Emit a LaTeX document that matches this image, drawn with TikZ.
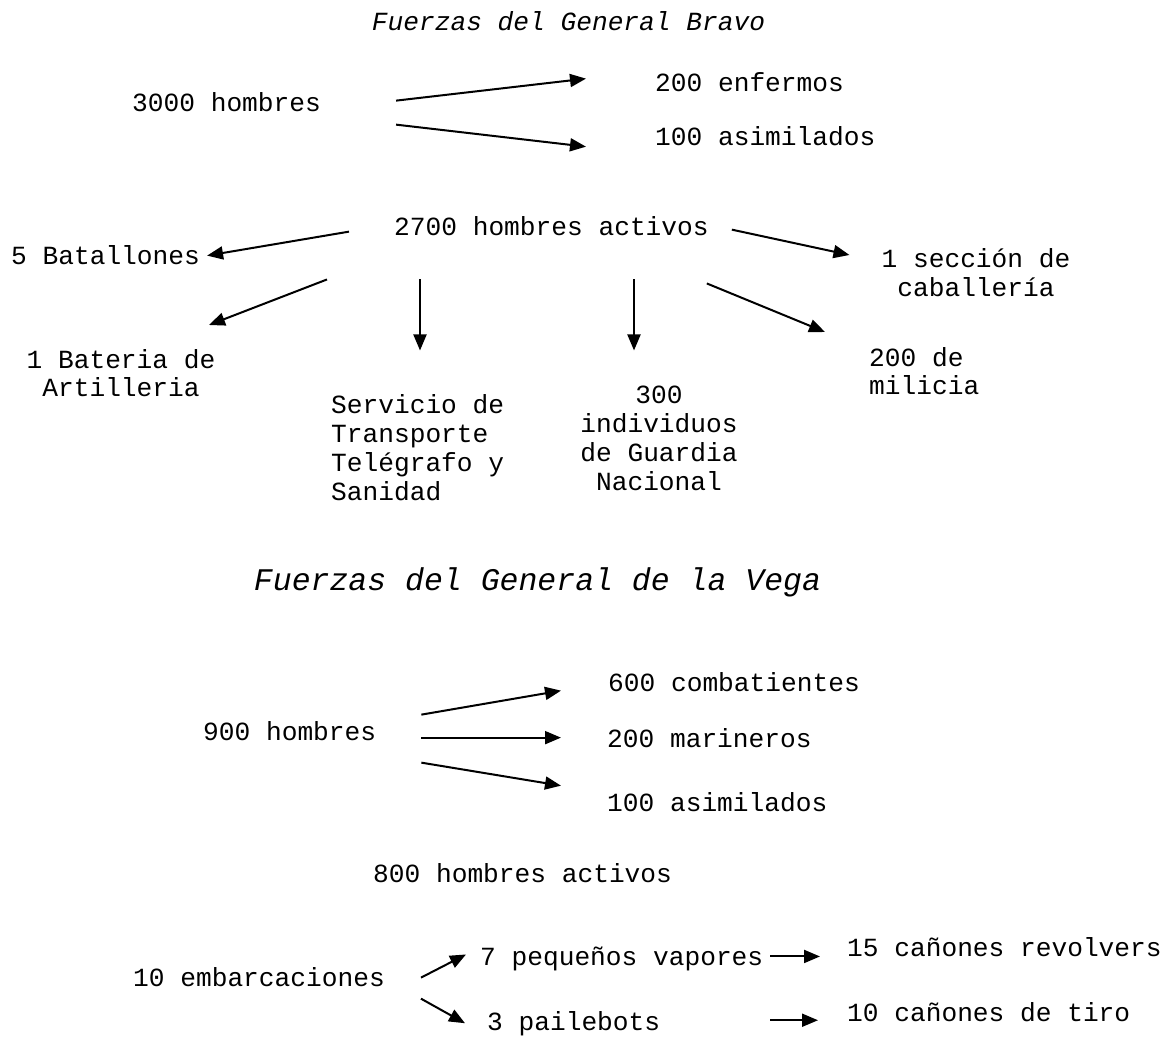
\documentclass[tikz,border=0pt]{standalone}
\usepackage{fontspec}
\setmainfont{Liberation Mono}
\usetikzlibrary{arrows.meta,calc}
\tikzset{
  txt/.style={inner sep=0pt, font=\fontsize{26.2}{29}\selectfont},
  txttight/.style={inner sep=0pt, font=\fontsize{26.2}{27}\selectfont},
  ttl/.style={inner sep=0pt, font=\fontsize{26.2}{29}\selectfont\itshape},
  bigttl/.style={inner sep=0pt, font=\fontsize{31.5}{36}\selectfont\itshape},
  arr/.style={line width=2pt, -{Triangle[length=16pt,width=13pt]}}
}
\begin{document}
\begin{tikzpicture}[x=1pt, y=-1pt]
\useasboundingbox (0,0) rectangle (1175,1036);
\node[ttl, anchor=base] (bravo) at (568.5,30) {Fuerzas del General Bravo};
\node[txt, anchor=base west] (h3000) at (132,111) {3000 hombres};
\node[txt, anchor=base west] (enf) at (655,91) {200 enfermos};
\node[txt, anchor=base west] (asi1) at (655,145) {100 asimilados};
\node[txt, anchor=base west] (act) at (394,235) {2700 hombres activos};
\node[txt, anchor=base west] (bat) at (11,264) {5 Batallones};
\node[txttight, anchor=north, align=center] (art) at (121,349) {\strut 1 Bateria de\\Artilleria};
\node[txt, anchor=north west, align=left] (serv) at (331,393) {\strut Servicio de\\Transporte\\Telégrafo y\\Sanidad};
\node[txt, anchor=north, align=center] (guard) at (659,383) {\strut 300\\individuos\\de Guardia\\Nacional};
\node[txttight, anchor=north west, align=left] (mil) at (869,347) {\strut 200 de\\milicia};
\node[txt, anchor=north, align=center] (cab) at (976,247) {\strut 1 sección de\\caballería};
\draw[arr] ($(h3000.east)+(75,-1)$) -- ($(enf.west)+(-69,-3)$);
\draw[arr] ($(h3000.east)+(75,23)$) -- ($(asi1.west)+(-69,11)$);
\draw[arr] ($(act.west)+(-45,6)$) -- ($(bat.east)+(7,1)$);
\draw[arr] ($(act.south west)+(-67,44)$) -- ($(art.north)+(88,-24)$);
\draw[arr] ($(act.south west)+(26,44)$) -- ($(act.south west)+(26,115)$);
\draw[arr] ($(act.south west)+(240,44)$) -- ($(act.south west)+(240,115)$);
\draw[arr] ($(act.south east)+(-2,48)$) -- ($(mil.north west)+(-44,-15)$);
\draw[arr] ($(act.east)+(23,4)$) -- ($(cab.north west)+(-32,8)$);
\node[bigttl, anchor=base] (vega) at (537.5,590) {Fuerzas del General de la Vega};
\node[txt, anchor=base west] (h900) at (203,740) {900 hombres};
\node[txt, anchor=base west] (comb) at (608,691) {600 combatientes};
\node[txt, anchor=base west] (mar) at (607,747) {200 marineros};
\node[txt, anchor=base west] (asi2) at (607,811) {100 asimilados};
\node[txt, anchor=base west] (act2) at (373,882) {800 hombres activos};
\node[txt, anchor=base west] (emb) at (133,986) {10 embarcaciones};
\node[txt, anchor=base west] (vap) at (480,965) {7 pequeños vapores};
\node[txt, anchor=base west] (rev) at (847,956) {15 cañones revolvers};
\node[txt, anchor=base west] (pai) at (487,1030) {3 pailebots};
\node[txt, anchor=base west] (tiro) at (847,1021) {10 cañones de tiro};
\draw[arr] ($(h900.east)+(45,-16)$) -- ($(comb.west)+(-47,9)$);
\draw[arr] ($(h900.east)+(45,7)$) -- ($(mar.west)+(-46,0)$);
\draw[arr] ($(h900.east)+(45,32)$) -- ($(asi2.west)+(-46,-16)$);
\draw[arr] ($(emb.east)+(36,1)$) -- ($(vap.west)+(-14,-4)$);
\draw[arr] ($(emb.east)+(36,22)$) -- ($(pai.west)+(-22,0)$);
\draw[arr] ($(vap.east)+(7,-2)$) -- ($(vap.east -| rev.west)+(-27,-2)$);
\draw[arr] ($(pai.east)+(110,-3)$) -- ($(pai.east -| tiro.west)+(-29,-3)$);
\end{tikzpicture}
\end{document}
